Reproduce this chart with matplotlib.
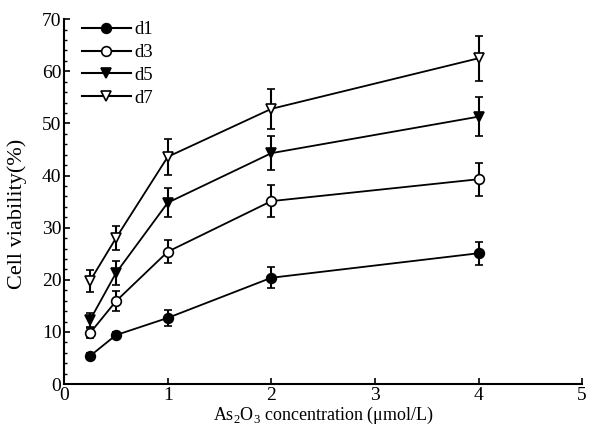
import matplotlib
matplotlib.use("Agg")
import matplotlib.pyplot as plt
from matplotlib.ticker import MultipleLocator
from matplotlib.lines import Line2D

plt.rcParams['font.family'] = ['Liberation Serif', 'DejaVu Serif']
plt.rcParams['mathtext.fontset'] = 'custom'
plt.rcParams['mathtext.rm'] = 'Liberation Serif'

conc = [0.25, 0.5, 1, 2, 4]
d1 = [5.4, 9.4, 12.7, 20.4, 25.1]
d1_err = [0.5, 0.6, 1.6, 2.0, 2.2]
d3 = [9.8, 15.9, 25.4, 35.1, 39.3]
d3_err = [1.0, 1.9, 2.2, 3.0, 3.2]
d5 = [12.3, 21.3, 34.8, 44.3, 51.3]
d5_err = [1.3, 2.3, 2.8, 3.3, 3.7]
d7 = [19.8, 28.0, 43.6, 52.8, 62.5]
d7_err = [2.1, 2.3, 3.4, 3.9, 4.3]

series = [
    ("d1", d1, d1_err, 'o', 'black'),
    ("d3", d3, d3_err, 'o', 'white'),
    ("d5", d5, d5_err, 'v', 'black'),
    ("d7", d7, d7_err, 'v', 'white'),
]

fig = plt.figure(figsize=(5.94, 4.36), dpi=100)
ax = fig.add_axes([0.108, 0.119, 0.872, 0.837])

handles = []
for name, vals, errs, mk, fc in series:
    ax.errorbar(conc, vals, yerr=errs, color='black', marker=mk, markerfacecolor=fc,
                markeredgecolor='black', markersize=7, markeredgewidth=1.2,
                linewidth=1.3, elinewidth=1.5, capsize=3, capthick=1.5)
    handles.append(Line2D([], [], color='black', marker=mk, markerfacecolor=fc,
                          markeredgecolor='black', markersize=7, markeredgewidth=1.2,
                          linewidth=1.5, label=name))

ax.set_xlim(0, 5)
ax.set_ylim(0, 70)
ax.xaxis.set_major_locator(MultipleLocator(1))
ax.yaxis.set_major_locator(MultipleLocator(10))
ax.yaxis.set_minor_locator(MultipleLocator(2))
ax.tick_params(axis='both', direction='in', labelsize=14, width=1.2, length=4, pad=2)
ax.tick_params(axis='y', which='minor', direction='in', length=2.5, width=1)
ax.spines['top'].set_visible(False)
ax.spines['right'].set_visible(False)
ax.spines['left'].set_linewidth(1.5)
ax.spines['bottom'].set_linewidth(1.5)

ax.set_xlabel('As$_2$O$_3$ concentration (μmol/L)', fontsize=13, labelpad=1)
ax.set_ylabel('Cell viability(%)', fontsize=16)
ax.yaxis.set_label_coords(-0.072, 0.466)

ax.legend(handles=handles, loc='upper left', frameon=False, fontsize=13.5,
          handlelength=2.6, borderaxespad=0.0, labelspacing=0.3, handletextpad=0.2,
          bbox_to_anchor=(0.02, 1.015))

fig.savefig('out.png', dpi=100)
